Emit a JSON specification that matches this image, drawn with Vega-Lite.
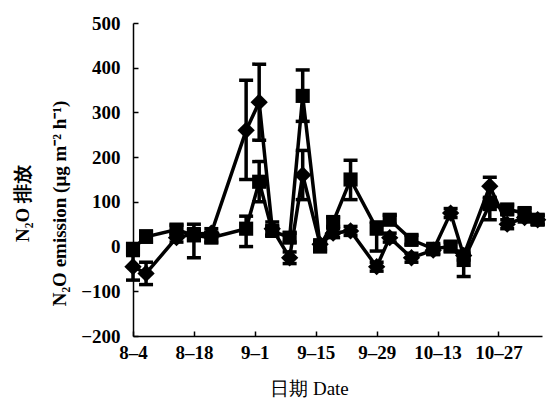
{
  "$schema": "https://vega.github.io/schema/vega-lite/v6.json",
  "width": 409,
  "height": 313,
  "autosize": "none",
  "padding": {"left": 133, "top": 23, "right": 9, "bottom": 64},
  "background": "white",
  "config": {
    "view": {"stroke": null},
    "font": "Liberation Serif",
    "axis": {
      "labelFont": "Liberation Serif",
      "labelFontWeight": "bold",
      "labelFontSize": 19,
      "labelColor": "black",
      "domainColor": "black",
      "domainWidth": 1.5,
      "tickColor": "black",
      "tickWidth": 1.5,
      "grid": false,
      "titleColor": "black",
      "titleFont": "Liberation Serif"
    }
  },
  "data": {
    "values": [
      {"date": "2012-08-04", "series": "D", "value": -45, "lo": -75, "hi": -20},
      {"date": "2012-08-07", "series": "D", "value": -60, "lo": -85, "hi": -35},
      {"date": "2012-08-14", "series": "D", "value": 20, "lo": 10, "hi": 30},
      {"date": "2012-08-18", "series": "D", "value": 28, "lo": 15, "hi": 40},
      {"date": "2012-08-22", "series": "D", "value": 30, "lo": 20, "hi": 40},
      {"date": "2012-08-30", "series": "D", "value": 260, "lo": 150, "hi": 372},
      {"date": "2012-09-02", "series": "D", "value": 323, "lo": 238, "hi": 408},
      {"date": "2012-09-05", "series": "D", "value": 40, "lo": 25, "hi": 55},
      {"date": "2012-09-09", "series": "D", "value": -25, "lo": -38, "hi": -12},
      {"date": "2012-09-12", "series": "D", "value": 160, "lo": 105, "hi": 215},
      {"date": "2012-09-16", "series": "D", "value": 5, "lo": -5, "hi": 15},
      {"date": "2012-09-19", "series": "D", "value": 30, "lo": 20, "hi": 40},
      {"date": "2012-09-23", "series": "D", "value": 35, "lo": 25, "hi": 45},
      {"date": "2012-09-29", "series": "D", "value": -45, "lo": -55, "hi": -35},
      {"date": "2012-10-02", "series": "D", "value": 20, "lo": 10, "hi": 30},
      {"date": "2012-10-07", "series": "D", "value": -25, "lo": -35, "hi": -15},
      {"date": "2012-10-12", "series": "D", "value": -8, "lo": -18, "hi": 2},
      {"date": "2012-10-16", "series": "D", "value": 75, "lo": 65, "hi": 85},
      {"date": "2012-10-19", "series": "D", "value": -20, "lo": -30, "hi": -10},
      {"date": "2012-10-25", "series": "D", "value": 135, "lo": 100, "hi": 155},
      {"date": "2012-10-29", "series": "D", "value": 50, "lo": 40, "hi": 60},
      {"date": "2012-11-02", "series": "D", "value": 65, "lo": 55, "hi": 75},
      {"date": "2012-11-05", "series": "D", "value": 60, "lo": 50, "hi": 70},
      {"date": "2012-08-04", "series": "S", "value": -5, "lo": -15, "hi": 5},
      {"date": "2012-08-07", "series": "S", "value": 22, "lo": 10, "hi": 35},
      {"date": "2012-08-14", "series": "S", "value": 38, "lo": 28, "hi": 48},
      {"date": "2012-08-18", "series": "S", "value": 25, "lo": -25, "hi": 50},
      {"date": "2012-08-22", "series": "S", "value": 20, "lo": 10, "hi": 30},
      {"date": "2012-08-30", "series": "S", "value": 40, "lo": 0, "hi": 68},
      {"date": "2012-09-02", "series": "S", "value": 145, "lo": 100, "hi": 190},
      {"date": "2012-09-05", "series": "S", "value": 35, "lo": 25, "hi": 45},
      {"date": "2012-09-09", "series": "S", "value": 20, "lo": 10, "hi": 30},
      {"date": "2012-09-12", "series": "S", "value": 337, "lo": 280, "hi": 395},
      {"date": "2012-09-16", "series": "S", "value": 0, "lo": -10, "hi": 10},
      {"date": "2012-09-19", "series": "S", "value": 55, "lo": 45, "hi": 65},
      {"date": "2012-09-23", "series": "S", "value": 150, "lo": 105, "hi": 193},
      {"date": "2012-09-29", "series": "S", "value": 40, "lo": -10, "hi": 55},
      {"date": "2012-10-02", "series": "S", "value": 60, "lo": 50, "hi": 70},
      {"date": "2012-10-07", "series": "S", "value": 15, "lo": 5, "hi": 25},
      {"date": "2012-10-12", "series": "S", "value": -5, "lo": -15, "hi": 5},
      {"date": "2012-10-16", "series": "S", "value": 0, "lo": -10, "hi": 10},
      {"date": "2012-10-19", "series": "S", "value": -30, "lo": -67, "hi": -15},
      {"date": "2012-10-25", "series": "S", "value": 95, "lo": 60, "hi": 110},
      {"date": "2012-10-29", "series": "S", "value": 83, "lo": 73, "hi": 93},
      {"date": "2012-11-02", "series": "S", "value": 75, "lo": 65, "hi": 85},
      {"date": "2012-11-05", "series": "S", "value": 60, "lo": 50, "hi": 70}
    ]
  },
  "encoding": {
    "x": {
      "field": "date",
      "type": "temporal",
      "scale": {
        "type": "utc",
        "domain": [
          {"year": 2012, "month": 8, "date": 4, "utc": true},
          {"year": 2012, "month": 11, "date": 6, "utc": true}
        ]
      },
      "axis": {
        "values": [
          {"year": 2012, "month": 8, "date": 4, "utc": true},
          {"year": 2012, "month": 8, "date": 18, "utc": true},
          {"year": 2012, "month": 9, "date": 1, "utc": true},
          {"year": 2012, "month": 9, "date": 15, "utc": true},
          {"year": 2012, "month": 9, "date": 29, "utc": true},
          {"year": 2012, "month": 10, "date": 13, "utc": true},
          {"year": 2012, "month": 10, "date": 27, "utc": true}
        ],
        "format": "%-m–%-d",
        "tickSize": -5,
        "labelPadding": 12,
        "labelFlush": false,
        "labelOverlap": false,
        "title": "日期 Date",
        "titleFontSize": 19,
        "titleFontWeight": "normal",
        "titleX": 176,
        "titleY": 52,
        "titleBaseline": "middle",
        "titleAlign": "center"
      }
    }
  },
  "layer": [
    {
      "mark": {"type": "line", "color": "black", "strokeWidth": 3.5, "opacity": 1},
      "encoding": {
        "y": {
          "field": "value",
          "type": "quantitative",
          "scale": {"domain": [-200, 500]},
          "axis": {
            "values": [-200, -100, 0, 100, 200, 300, 400, 500],
            "tickSize": -5,
            "labelPadding": 18,
            "title": ["N₂O 排放", "N₂O emission (μg m⁻² h⁻¹)"],
            "titleFontSize": 19,
            "titleFontWeight": "bold",
            "titleLineHeight": 37,
            "titleX": -111,
            "titleY": 180,
            "titleBaseline": "middle",
            "titleAlign": "center",
            "titleAngle": -90
          }
        },
        "detail": {"field": "series"}
      }
    },
    {
      "mark": {"type": "rule", "color": "black", "strokeWidth": 3.5, "opacity": 1},
      "encoding": {
        "y": {"field": "lo", "type": "quantitative"},
        "y2": {"field": "hi"}
      }
    },
    {
      "mark": {"type": "tick", "color": "black", "orient": "horizontal", "size": 14, "thickness": 3.5, "opacity": 1},
      "encoding": {"y": {"field": "lo", "type": "quantitative"}}
    },
    {
      "mark": {"type": "tick", "color": "black", "orient": "horizontal", "size": 14, "thickness": 3.5, "opacity": 1},
      "encoding": {"y": {"field": "hi", "type": "quantitative"}}
    },
    {
      "mark": {"type": "point", "filled": true, "color": "black", "opacity": 1},
      "encoding": {
        "y": {"field": "value", "type": "quantitative"},
        "shape": {
          "field": "series",
          "type": "nominal",
          "scale": {"domain": ["D", "S"], "range": ["diamond", "square"]},
          "legend": null
        },
        "size": {
          "field": "series",
          "type": "nominal",
          "scale": {"domain": ["D", "S"], "range": [300, 200]},
          "legend": null
        }
      }
    }
  ]
}
